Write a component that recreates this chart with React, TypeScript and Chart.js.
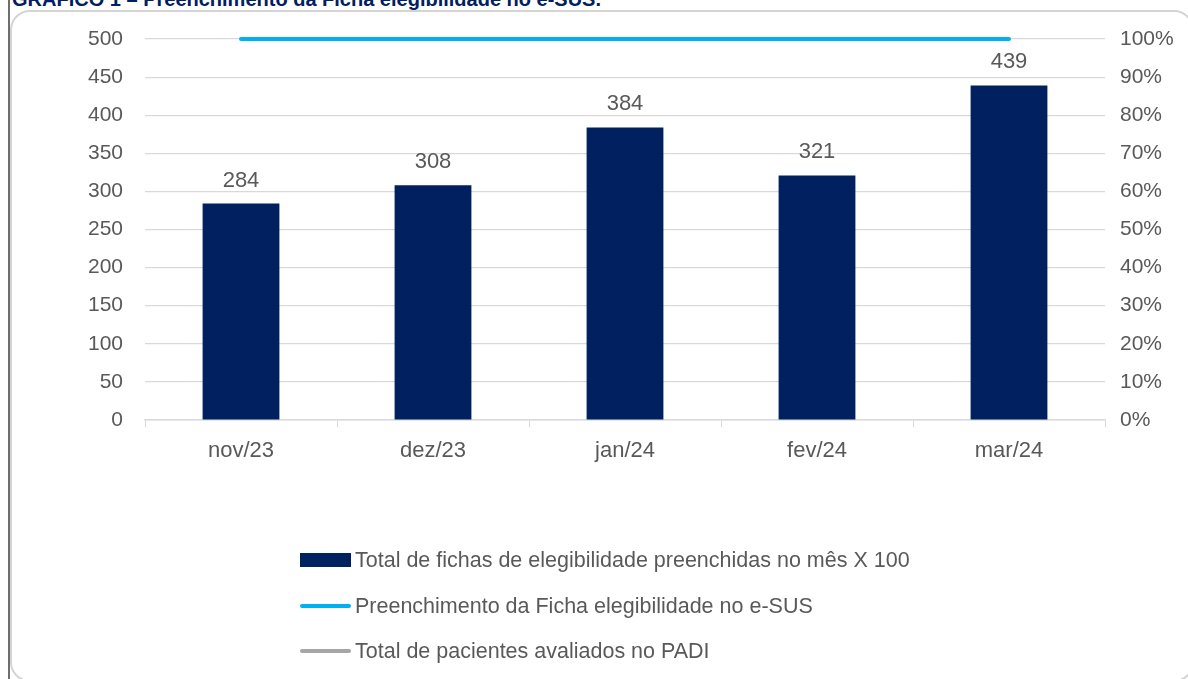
import React, { useEffect, useRef } from "react";
import { Chart, registerables } from "chart.js";

Chart.register(...registerables);

const FONT = "'Liberation Sans', Arial, sans-serif";
const TEXT = "#595959";
const GRID = "#D9D9D9";

const categories = ["nov/23", "dez/23", "jan/24", "fev/24", "mar/24"];
const fichasX100 = [284, 308, 384, 321, 439];
const preenchimentoPct = [100, 100, 100, 100, 100];
const pacientesPADI: (number | null)[] = [null, null, null, null, null];

const seriesNames = [
  "Total de fichas de elegibilidade preenchidas no mês X 100",
  "Preenchimento da Ficha elegibilidade no e-SUS",
  "Total de pacientes avaliados no PADI",
];
const title = "GRÁFICO 1 – Preenchimento da Ficha elegibilidade no e-SUS.";

const barLabels = {
  id: "barLabels",
  afterDatasetsDraw(chart: any) {
    const meta = chart.getDatasetMeta(0);
    const data = chart.data.datasets[0].data;
    const ctx = chart.ctx;
    ctx.save();
    ctx.font = `22px ${FONT}`;
    ctx.fillStyle = TEXT;
    ctx.textAlign = "center";
    ctx.textBaseline = "alphabetic";
    meta.data.forEach((el: any, i: number) => {
      ctx.fillText(String(data[i]), el.x, el.y - 17);
    });
    ctx.restore();
  },
};

const stackedLegend = {
  id: "stackedLegend",
  afterDraw(chart: any) {
    const ctx = chart.ctx;
    const rows = [560, 606, 651];
    const x0 = 300;
    const symW = 51;
    ctx.save();
    ctx.font = `21.5px ${FONT}`;
    ctx.textBaseline = "middle";
    ctx.textAlign = "left";
    chart.data.datasets.forEach((ds: any, i: number) => {
      const y = rows[i];
      if (ds.type === "bar") {
        ctx.fillStyle = ds.backgroundColor;
        ctx.fillRect(x0, y - 7, symW, 14);
      } else {
        ctx.strokeStyle = ds.borderColor;
        ctx.lineWidth = 4;
        ctx.lineCap = "round";
        ctx.beginPath();
        ctx.moveTo(x0 + 2, y);
        ctx.lineTo(x0 + symW - 2, y);
        ctx.stroke();
      }
      ctx.fillStyle = TEXT;
      ctx.fillText(ds.label, x0 + symW + 4, y + 1);
    });
    ctx.restore();
  },
};

export default function App() {
  const ref = useRef<HTMLCanvasElement | null>(null);

  useEffect(() => {
    if (!ref.current) return;
    const chart = new Chart(ref.current, {
      data: {
        labels: categories,
        datasets: [
          {
            type: "bar",
            label: seriesNames[0],
            data: fichasX100,
            backgroundColor: "#002060",
            barPercentage: 0.4,
            categoryPercentage: 1,
            yAxisID: "y",
            order: 2,
          },
          {
            type: "line",
            label: seriesNames[1],
            data: preenchimentoPct,
            borderColor: "#00B0F0",
            backgroundColor: "#00B0F0",
            borderWidth: 4,
            borderCapStyle: "round",
            pointRadius: 0,
            clip: false,
            yAxisID: "y1",
            order: 1,
          },
          {
            type: "line",
            label: seriesNames[2],
            data: pacientesPADI,
            borderColor: "#A6A6A6",
            backgroundColor: "#A6A6A6",
            borderWidth: 4,
            pointRadius: 0,
            yAxisID: "y",
            order: 0,
          },
        ],
      } as any,
      options: {
        animation: false,
        responsive: false,
        maintainAspectRatio: false,
        layout: { padding: { top: 39, bottom: 209, left: 0, right: 0 } },
        plugins: {
          legend: { display: false },
          tooltip: { enabled: false },
        },
        scales: {
          x: {
            grid: {
              display: true,
              drawOnChartArea: false,
              drawTicks: true,
              tickLength: 7,
              color: GRID,
              offset: true,
            },
            border: { display: true, color: GRID, width: 1.5 },
            ticks: { color: TEXT, font: { family: FONT, size: 22 }, padding: 11 },
            afterFit: (s: any) => {
              s.height = 50;
            },
          },
          y: {
            position: "left",
            min: 0,
            max: 500,
            ticks: { stepSize: 50, color: TEXT, font: { family: FONT, size: 21 }, padding: 22 },
            grid: { color: GRID, drawTicks: false, lineWidth: 1.2 },
            border: { display: false },
            afterFit: (s: any) => {
              s.width = 145;
            },
          },
          y1: {
            position: "right",
            min: 0,
            max: 100,
            ticks: {
              stepSize: 10,
              color: TEXT,
              font: { family: FONT, size: 21 },
              padding: 15,
              callback: (v: any) => `${v}%`,
            },
            grid: { display: false, drawTicks: false },
            border: { display: false },
            afterFit: (s: any) => {
              s.width = 83;
            },
          },
        },
      } as any,
      plugins: [barLabels, stackedLegend],
    });
    return () => chart.destroy();
  }, []);

  return (
    <div
      style={{
        position: "fixed",
        left: 0,
        top: 0,
        width: 1188,
        height: 679,
        overflow: "hidden",
        background: "#ffffff",
      }}
    >
      <div
        style={{
          position: "absolute",
          left: 12,
          top: -11,
          fontFamily: FONT,
          fontWeight: "bold",
          fontSize: 20,
          lineHeight: "20px",
          color: "#002060",
          whiteSpace: "nowrap",
        }}
      >
        {title}
      </div>
      <div
        style={{
          position: "absolute",
          left: 8,
          top: 0,
          width: 2,
          height: 679,
          background: "#6E6E6E",
        }}
      />
      <div
        style={{
          position: "absolute",
          left: 10,
          top: 10,
          width: 1184,
          height: 672,
          boxSizing: "border-box",
          border: "2px solid #D4D4D4",
          borderRadius: 20,
        }}
      />
      <canvas
        ref={ref}
        width={1188}
        height={679}
        style={{ position: "absolute", left: 0, top: 0, width: 1188, height: 679 }}
      />
    </div>
  );
}
